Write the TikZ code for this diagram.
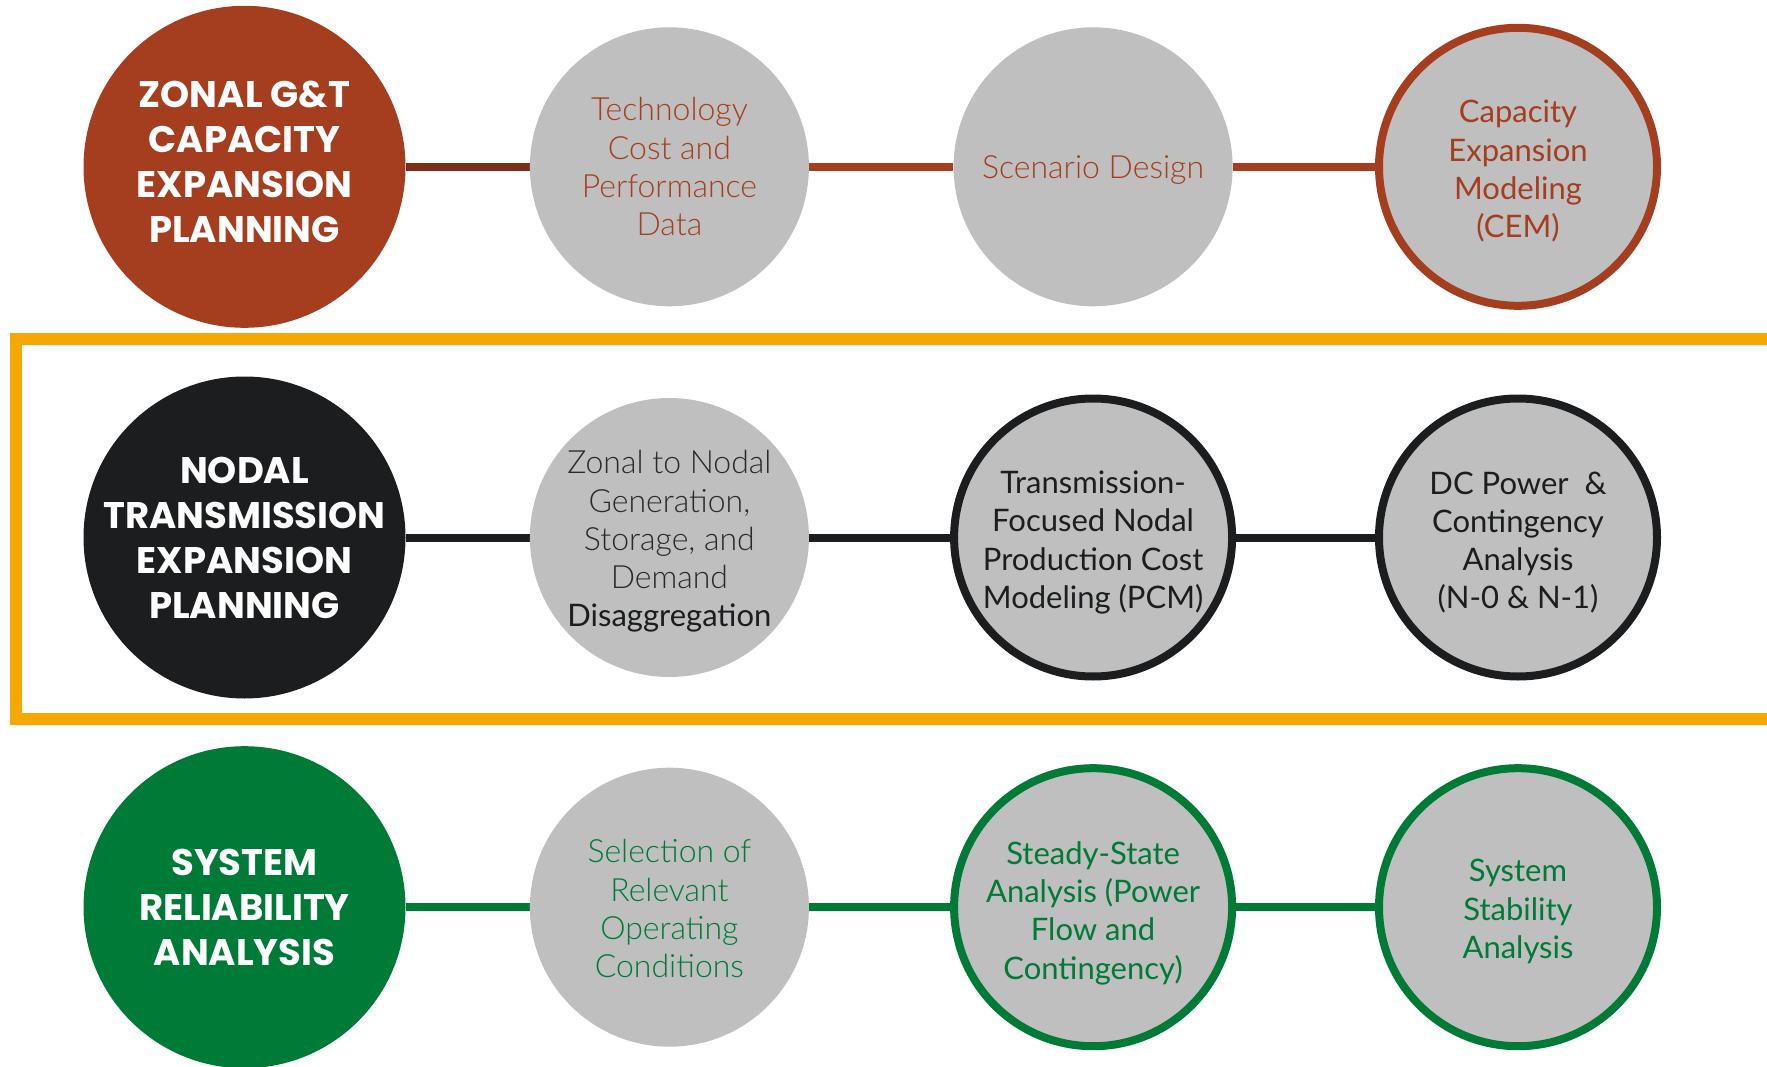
\documentclass[tikz,border=0pt]{standalone}
\usepackage{fontspec}
\setmainfont{Lato}
\newfontfamily\popfont{Poppins}
\newfontfamily\lightfont{Lato Light}
\newfontfamily\regfont{Lato}
\usetikzlibrary{backgrounds}
\definecolor{rust}{HTML}{A43E1F}
\definecolor{rustdark}{HTML}{7D2E19}
\definecolor{ink}{HTML}{1B1D1F}
\definecolor{inkgray}{HTML}{2A2A2A}
\definecolor{grn}{HTML}{007A37}
\definecolor{cgray}{HTML}{BFBFBF}
\definecolor{frame}{HTML}{F5A800}
\begin{document}
\begin{tikzpicture}[x=1pt,y=-1pt,
  bigc/.style={circle, minimum size=322pt, inner sep=0pt},
  bigt/.style={inner sep=0pt, text=white, align=center,
    font=\popfont\bfseries\fontsize{37}{45}\selectfont},
  grayc/.style={circle, fill=cgray, minimum size=279pt, inner sep=0pt},
  bordc/.style={circle, fill=cgray, draw, line width=8pt, minimum size=278pt, inner sep=0pt},
  lt/.style={inner sep=0pt, align=center, font=\lightfont\fontsize{32}{38.3}\selectfont},
  rt/.style={inner sep=0pt, align=center, font=\regfont\fontsize{31}{38.3}\selectfont},
  link/.style={line width=8pt}
]
\useasboundingbox (0,0) rectangle (1767,1067);
\begin{scope}
\clip (0,0) rectangle (1767,1067);
% frame
\draw[frame, line width=12pt] (1800,339) -- (16,339) -- (16,719) -- (1800,719);
% row 1
\node[bigc, fill=rust] (z1) at (244.5,166.8) {};
\node[grayc] (z2) at (669.4,166.8) {};
\node[grayc] (z3) at (1093.1,166.8) {};
\node[bordc, draw=rust] (z4) at (1518,166.8) {};
% row 2
\node[bigc, fill=ink] (n1) at (244.5,537.5) {};
\node[grayc] (n2) at (669.4,537.5) {};
\node[bordc, draw=ink] (n3) at (1093.1,537.5) {};
\node[bordc, draw=ink] (n4) at (1518,537.5) {};
% row 3
\node[bigc, fill=grn] (s1) at (244.5,907.2) {};
\node[grayc] (s2) at (669.4,907.2) {};
\node[bordc, draw=grn] (s3) at (1093.1,907.2) {};
\node[bordc, draw=grn] (s4) at (1518,907.2) {};
% texts
\node[bigt] (z1t) at ([yshift=4.5pt]z1.center) {ZONAL G\&T\\CAPACITY\\EXPANSION\\PLANNING};
\node[lt, text=rust] (z2t) at (z2.center) {Technology\\Cost and\\Performance\\Data};
\node[lt, text=rust] (z3t) at ([yshift=-3.4pt]z3.center) {Scenario Design};
\node[rt, text=rust] (z4t) at ([yshift=-4.5pt]z4.center) {Capacity\\Expansion\\Modeling\\(CEM)};
\node[bigt] (n1t) at (n1.center) {NODAL\\TRANSMISSION\\EXPANSION\\PLANNING};
\node[lt, text=inkgray] (n2t) at ([yshift=-4pt]n2.center) {Zonal to Nodal\\Generation,\\Storage, and\\Demand\\{\regfont\fontsize{31}{38.3}\selectfont\color{ink}Disaggregation}};
\node[rt, text=ink] (n3t) at ([yshift=-5pt]n3.center) {Transmission-\\Focused Nodal\\Production Cost\\Modeling (PCM)};
\node[rt, text=ink] (n4t) at ([yshift=-5pt]n4.center) {DC Power\ \ \&\\Contingency\\Analysis\\(N-0 \& N-1)};
\node[bigt] (s1t) at (s1.center) {SYSTEM\\RELIABILITY\\ANALYSIS};
\node[lt, text=grn] (s2t) at ([yshift=-1.5pt]s2.center) {Selection of\\Relevant\\Operating\\Conditions};
\node[rt, text=grn] (s3t) at ([yshift=-6pt]s3.center) {Steady-State\\Analysis (Power\\Flow and\\Contingency)};
\node[rt, text=grn] (s4t) at ([yshift=-4.5pt]s4.center) {System\\Stability\\Analysis};
\end{scope}
\begin{pgfonlayer}{background}
\draw[link, rustdark] (z1) -- (z2);
\draw[link, rust] (z2) -- (z3);
\draw[link, rust] (z3) -- (z4);
\draw[link, ink] (n1) -- (n2);
\draw[link, ink] (n2) -- (n3);
\draw[link, ink] (n3) -- (n4);
\draw[link, grn] (s1) -- (s2);
\draw[link, grn] (s2) -- (s3);
\draw[link, grn] (s3) -- (s4);
\end{pgfonlayer}
\end{tikzpicture}
\end{document}
